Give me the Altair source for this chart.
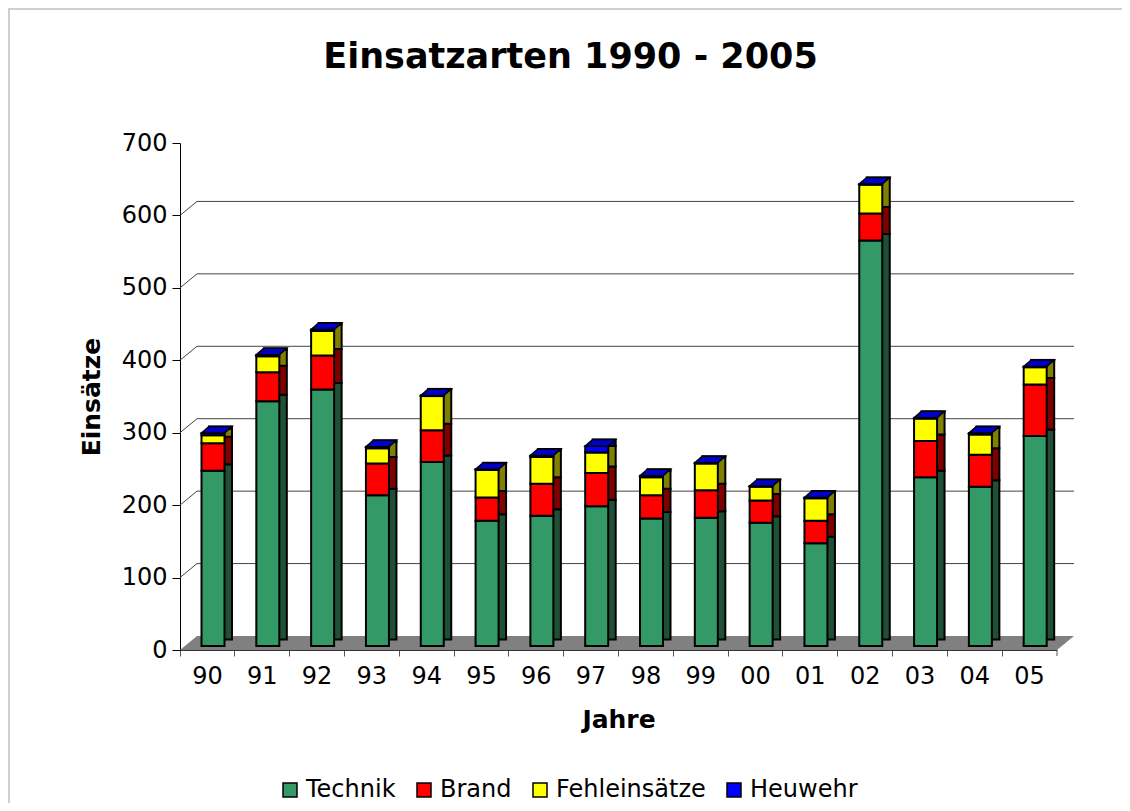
import altair as alt
import pandas as pd

# ---------------- data ----------------
years = ["90", "91", "92", "93", "94", "95", "96", "97",
         "98", "99", "00", "01", "02", "03", "04", "05"]
technik = [242, 338, 354, 208, 254, 173, 180, 193, 176, 177, 170, 142, 560, 233, 220, 290]
brand = [38, 40, 47, 44, 44, 32, 44, 46, 32, 38, 31, 31, 37, 50, 44, 71]
fehleinsaetze = [11, 22, 34, 21, 47, 38, 37, 28, 25, 37, 19, 31, 40, 31, 28, 24]
heuwehr = [3, 2, 2, 2, 1, 1, 2, 9, 2, 1, 1, 1, 1, 1, 2, 1]
series = ["Technik", "Brand", "Fehleinsätze", "Heuwehr"]
y_ticks = [0, 100, 200, 300, 400, 500, 600, 700]
grid_values = [100, 200, 300, 400, 500, 600]

# ---------------- styles / layout ----------------
FONT = "DejaVu Sans"
front_colors = ["#339966", "#ff0000", "#ffff00", "#0000ff"]
side_colors = ["#1f4f35", "#800000", "#808000", "#0000a8"]
TOP_COLOR = "#0000c8"
W, H = 877, 507
DX, DY = 17, -14          # back-wall offset
BAR_W = 23
FX, FY = 5.6, -4          # front face offset
SX, SY = 7.5, -6.5        # box depth

rows = []
for s_i, (name, vals) in enumerate(zip(series, [technik, brand, fehleinsaetze, heuwehr])):
    for y, v in zip(years, vals):
        rows.append({"Jahr": y, "Art": name, "Einsätze": v, "idx": s_i})
df = pd.DataFrame(rows)

y_scale = alt.Scale(domain=[0, 700], nice=False, zero=True)
x_scale = alt.Scale(paddingInner=0, paddingOuter=0)

x_axis = alt.Axis(
    title="Jahre", labelAngle=0, bandPosition=0, domainColor="#333333",
    tickColor="#555555", tickSize=6, labelFontSize=24, labelFont=FONT,
    labelColor="black", labelPadding=8, titleFontSize=25, titleFont=FONT,
    titleFontWeight="bold", titleColor="black", titlePadding=19, grid=False,
)
y_axis = alt.Axis(
    title="Einsätze", values=y_ticks, grid=False, domainColor="black",
    tickColor="black", tickSize=8, labelFontSize=24, labelFont=FONT,
    labelColor="black", labelPadding=5, titleFontSize=25, titleFont=FONT,
    titleFontWeight="bold", titleColor="black", titlePadding=17,
)
x_enc = alt.X("Jahr:N", sort=years, scale=x_scale, axis=x_axis)

base = alt.Chart(df)
one = pd.DataFrame({"a": [0]})

# outer light border
border = alt.Chart(one).mark_rect(
    fill="white", fillOpacity=0, stroke="#cfcfcf", strokeWidth=2
).encode(x=alt.value(-171), y=alt.value(-134), x2=alt.value(W + 200), y2=alt.value(H + 300))

grid_df = pd.DataFrame({"v": grid_values})
grid = alt.Chart(grid_df).mark_rule(color="#444444", strokeWidth=1, yOffset=DY, y2Offset=DY).encode(
    y=alt.Y("v:Q", scale=y_scale, axis=y_axis),
    x=alt.value(DX),
    x2=alt.value(W + DX),
)
diag = alt.Chart(grid_df).mark_rule(color="#444444", strokeWidth=1, y2Offset=DY).encode(
    y=alt.Y("v:Q", scale=y_scale, axis=y_axis),
    y2=alt.Y2("v:Q"),
    x=alt.value(0),
    x2=alt.value(DX),
)

# grey floor as a parallelogram
half = (W + DX) / 2
fy = abs(DY) / 2 / half
fx = (W - half) / half
floor_path = f"M-1,{fy:.5f}L{fx:.5f},{fy:.5f}L1,{-fy:.5f}L{-fx:.5f},{-fy:.5f}Z"
floor = alt.Chart(one).mark_point(
    shape=floor_path, filled=True, fill="#808080", opacity=1, strokeWidth=0, size=(2 * half) ** 2
).encode(x=alt.value(half), y=alt.value(H + DY / 2))

shadow = base.mark_bar(
    width=BAR_W, stroke="black", strokeWidth=2,
    xOffset=FX + SX, x2Offset=FX + SX, yOffset=FY + SY, y2Offset=FY + SY,
).encode(
    x=x_enc,
    y=alt.Y("Einsätze:Q", stack="zero", scale=y_scale, axis=y_axis),
    color=alt.Color("Art:N", scale=alt.Scale(domain=series, range=side_colors), legend=None),
    order=alt.Order("idx:Q", sort="ascending"),
)

front = base.mark_bar(
    width=BAR_W, stroke="black", strokeWidth=2,
    xOffset=FX, x2Offset=FX, yOffset=FY, y2Offset=FY,
).encode(
    x=x_enc,
    y=alt.Y("Einsätze:Q", stack="zero", scale=y_scale, axis=y_axis),
    color=alt.Color(
        "Art:N", scale=alt.Scale(domain=series, range=front_colors),
        legend=alt.Legend(
            title=None, orient="none", legendX=98, legendY=635, direction="horizontal",
            symbolType="square", symbolSize=196, symbolStrokeColor="black",
            symbolStrokeWidth=1.5, labelFontSize=24, labelFont=FONT, labelColor="black",
            columnPadding=16, labelOffset=4, padding=0,
        ),
    ),
    order=alt.Order("idx:Q", sort="ascending"),
)

# top face of each column (parallelogram)
tw = (BAR_W + SX) / 2
ty = abs(SY) / 2 / tw
tx = (BAR_W / 2 - SX / 2) / tw
top_path = f"M-1,{ty:.4f}L{tx:.4f},{ty:.4f}L1,{-ty:.4f}L{-tx:.4f},{-ty:.4f}Z"
top = base.transform_aggregate(
    total="sum(Einsätze)", groupby=["Jahr"]
).mark_point(
    shape=top_path, filled=True, fill=TOP_COLOR, opacity=1, stroke="black", strokeWidth=1.5,
    size=(2 * tw) ** 2, xOffset=FX + SX / 2, yOffset=FY + SY / 2,
).encode(
    x=x_enc,
    y=alt.Y("total:Q", scale=y_scale, axis=y_axis),
)

end_tick = alt.Chart(one).mark_rule(color="#555555", strokeWidth=1).encode(
    x=alt.value(W), y=alt.value(H), y2=alt.value(H + 6)
)

chart = alt.layer(border, grid, diag, floor, shadow, front, top, end_tick).resolve_scale(
    color="independent"
).properties(
    width=W, height=H,
    background="white",
    title=alt.TitleParams(
        "Einsatzarten 1990 - 2005", fontSize=35, font=FONT, fontWeight="bold",
        anchor="middle", dx=-48, offset=0, dy=95, baseline="alphabetic", color="black",
    ),
    autosize=alt.AutoSizeParams(type="none"),
    padding={"left": 172, "top": 135, "right": 65, "bottom": 153},
).configure_view(stroke="transparent")

chart.save("out.html", embed_options={"renderer": "svg", "actions": False})
